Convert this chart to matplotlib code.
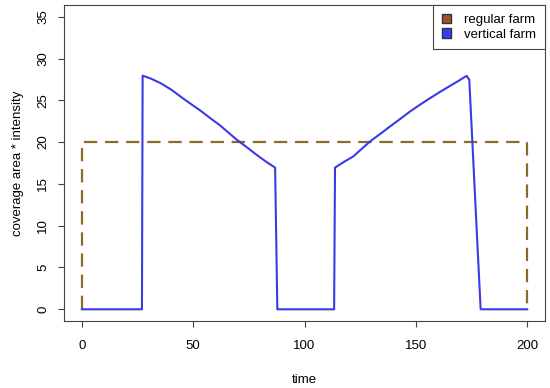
import matplotlib.pyplot as plt
from matplotlib.patches import Patch

# regular farm: constant coverage over the whole period
regular_t = [0, 0, 200, 200]
regular_v = [0, 20, 20, 0]

# vertical farm
vertical_t = [0, 27, 27.3, 31, 35.3, 40, 44.3, 48.5, 53.2, 57.5, 62.1, 66, 69.6, 74, 78.5, 82.5, 86.8, 87.8,
              113.3, 113.7, 117.5, 121.9, 125.5, 129.4, 134, 138.4, 143, 147.4, 152, 156.4, 161, 165.4, 169.5, 172.8, 174.0, 179.1, 200]
vertical_v = [0, 0, 27.95, 27.6, 27.06, 26.3, 25.45, 24.65, 23.78, 22.9, 21.99, 21.1, 20.28, 19.4, 18.48, 17.7, 16.95, 0,
              0, 16.95, 17.6, 18.28, 19.15, 20.07, 20.98, 21.87, 22.78, 23.66, 24.5, 25.26, 26.03, 26.73, 27.38, 27.93, 27.45, 0, 0]

x_ticks = [0, 50, 100, 150, 200]
y_ticks = [0, 5, 10, 15, 20, 25, 30, 35]

plt.rcParams['font.family'] = ['Liberation Sans', 'DejaVu Sans']

fig = plt.figure(figsize=(5.5, 3.88), dpi=100)
ax = fig.add_axes([0.1164, 0.1727, 0.8745, 0.8144])

ax.plot(regular_t, regular_v, color='#8B6A2E', lw=1.6, dashes=(6, 3.5))
ax.plot(vertical_t, vertical_v, color='#3A3AE6', lw=1.5)

ax.set_xlim(-8, 208)
ax.set_ylim(-1.4, 36.4)
ax.set_xticks(x_ticks)
ax.set_yticks(y_ticks)
ax.tick_params(labelsize=9.5, length=4.5, color='#444444', width=0.8)
ax.tick_params(axis='x', pad=9)
ax.tick_params(axis='y', pad=6)
for lab in ax.get_yticklabels():
    lab.set_rotation(90)
    lab.set_va('center')
for s in ax.spines.values():
    s.set_color('#444444')
    s.set_linewidth(0.8)

ax.set_xlabel('time', fontsize=9.5, labelpad=16)
ax.set_ylabel('coverage area * intensity', fontsize=9.5, labelpad=10)

handles = [Patch(facecolor='#A0522D', edgecolor='#333333', label='regular farm'),
           Patch(facecolor='#3A3AFF', edgecolor='#333333', label='vertical farm')]
leg = ax.legend(handles=handles, loc='upper right', fontsize=9.5, fancybox=False,
                borderaxespad=0, handlelength=0.7, handleheight=0.7, handletextpad=1.0,
                labelspacing=0.2, borderpad=0.65, framealpha=1)
leg.get_frame().set_edgecolor('#444444')
leg.get_frame().set_linewidth(0.8)

plt.savefig('out.png', dpi=100)
